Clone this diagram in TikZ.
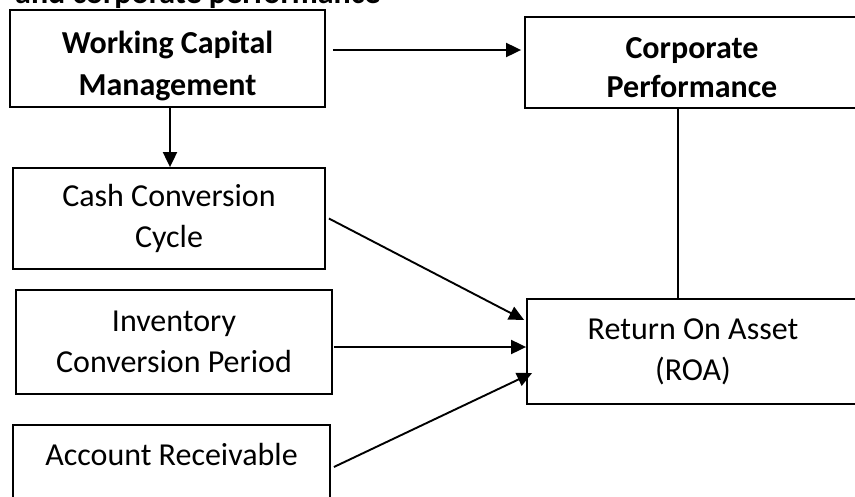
\documentclass[tikz,border=0pt]{standalone}
\usepackage{fontspec}
\setmainfont{Carlito}
\usetikzlibrary{arrows.meta}
\newcommand{\topgap}{\rule{0pt}{38pt}}
\tikzset{
  box/.style={draw, line width=1.8pt, align=center, inner sep=0pt, font=\fontsize{32}{41}\selectfont},
  boldbox/.style={box, font=\bfseries\fontsize{32}{42}\selectfont},
  link/.style={line width=1.9pt, -{Triangle[length=15pt,width=14pt]}}
}
\begin{document}
\begin{tikzpicture}[x=1pt,y=-1pt]
\useasboundingbox (0,0) rectangle (855,496);
\clip (0,0) rectangle (855,496);
% heading, cut off at the top
\node[anchor=base west, inner sep=0pt, font=\bfseries\fontsize{32}{40}\selectfont] (title) at (15,3.5) {and corporate performance};
% boxes
\node[boldbox, minimum width=315pt, minimum height=97pt] (wcm) at (167.5,58.5) {\topgap Working Capital\\Management};
\node[boldbox, font=\bfseries\fontsize{32}{39}\selectfont, minimum width=334pt, minimum height=91pt] (cp) at (692,62.5) {\rule{0pt}{32pt}Corporate\\Performance};
\node[box, minimum width=312pt, minimum height=101pt] (ccc) at (169,218.5) {Cash Conversion\\Cycle};
\node[box, minimum width=316pt, minimum height=104pt] (icp) at (174,342) {Inventory\\Conversion Period};
\node[box, minimum width=317pt, minimum height=100pt] (ar) at (171.5,475) {Account Receivable\\~};
\node[box, minimum width=332pt, minimum height=105pt] (roa) at (693,351.5) {Return On Asset\\(ROA)};
% connectors
\draw[link] ([xshift=7pt,yshift=8.5pt]wcm.east) -- ([xshift=-3pt,yshift=12.5pt]cp.west);
\draw[link] ([xshift=2.5pt]wcm.south) -- ([xshift=2.5pt]wcm.south |- ccc.north);
\draw[link] ([xshift=3pt]ccc.east) -- ([xshift=-2pt,yshift=31.5pt]roa.west);
\draw[link] ([xshift=1pt,yshift=-5pt]icp.east) -- ([yshift=4.5pt]roa.west);
\draw[link] ([xshift=3pt,yshift=8pt]ar.east) -- ([xshift=6pt,yshift=-21.5pt]roa.west);
\draw[line width=1.8pt] ([xshift=-14pt]cp.south) -- ([xshift=-14pt]cp.south |- roa.north);
\end{tikzpicture}
\end{document}
